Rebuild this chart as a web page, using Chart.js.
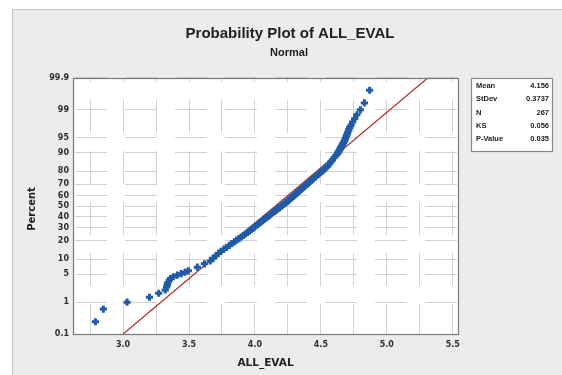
<!DOCTYPE html>
<html>
<head>
<meta charset="utf-8">
<script src="https://cdn.jsdelivr.net/npm/chart.js@4/dist/chart.umd.min.js"></script>
<style>
  html, body { margin: 0; padding: 0; background: #ffffff; }
  canvas { display: block; }
</style>
</head>
<body>
<canvas id="probPlot" width="562" height="375"></canvas>
<script>
// values (ALL_EVAL, normal)
const evalValues = [
  2.79, 2.85, 3.03, 3.20, 3.27, 3.32, 3.33, 3.335, 3.34, 3.35,
  3.36, 3.38, 3.41, 3.44, 3.47, 3.495, 3.563, 3.617, 3.661, 3.683,
  3.704, 3.723, 3.743, 3.765, 3.786, 3.806, 3.825, 3.843, 3.861, 3.879,
  3.896, 3.912, 3.927, 3.943, 3.956, 3.970, 3.983, 3.996, 4.008, 4.021,
  4.033, 4.045, 4.057, 4.069, 4.081, 4.093, 4.105, 4.116, 4.128, 4.140,
  4.151, 4.163, 4.174, 4.186, 4.197, 4.209, 4.220, 4.232, 4.243, 4.253,
  4.263, 4.274, 4.284, 4.294, 4.305, 4.315, 4.326, 4.337, 4.347, 4.358,
  4.369, 4.381, 4.392, 4.404, 4.416, 4.428, 4.440, 4.453, 4.466, 4.480,
  4.494, 4.508, 4.523, 4.538, 4.551, 4.563, 4.575, 4.587, 4.600, 4.614,
  4.624, 4.629, 4.633, 4.637, 4.641, 4.645, 4.649, 4.653, 4.658, 4.663,
  4.667, 4.672, 4.678, 4.683, 4.687, 4.691, 4.696, 4.701, 4.706, 4.712,
  4.719, 4.729, 4.741, 4.756, 4.773, 4.80, 4.83, 4.87
]
const percentValues = [
  0.26, 0.64, 1.01, 1.38, 1.76, 2.13, 2.51, 2.88, 3.25, 3.63,
  4.00, 4.38, 4.75, 5.12, 5.50, 5.87, 6.99, 8.12, 9.24, 10.36,
  11.48, 12.60, 13.73, 14.85, 15.97, 17.09, 18.21, 19.33, 20.46, 21.58,
  22.70, 23.82, 24.94, 26.07, 27.19, 28.31, 29.43, 30.55, 31.68, 32.80,
  33.92, 35.04, 36.16, 37.28, 38.41, 39.53, 40.65, 41.77, 42.90, 44.02,
  45.14, 46.26, 47.38, 48.50, 49.63, 50.75, 51.87, 52.99, 54.11, 55.24,
  56.36, 57.48, 58.60, 59.72, 60.85, 61.97, 63.09, 64.21, 65.33, 66.45,
  67.58, 68.70, 69.82, 70.94, 72.06, 73.19, 74.31, 75.43, 76.55, 77.67,
  78.80, 79.92, 81.04, 82.16, 83.28, 84.41, 85.53, 86.65, 87.77, 88.89,
  89.64, 90.01, 90.39, 90.76, 91.14, 91.51, 91.89, 92.26, 92.63, 93.01,
  93.38, 93.75, 94.13, 94.50, 94.88, 95.25, 95.62, 96.00, 96.37, 96.75,
  97.12, 97.49, 97.87, 98.24, 98.62, 98.99, 99.36, 99.74
]

// fitted normal line (ends at 0.1% and 99.9%)
const fitX = [3.00, 5.31]
const fitPercent = [0.1, 99.9]

// axis ticks
const yTickPercents = [0.1, 1, 5, 10, 20, 30, 40, 50, 60, 70, 80, 90, 95, 99, 99.9]
const yTickLabels = ['0.1', '1', '5', '10', '20', '30', '40', '50', '60', '70', '80', '90', '95', '99', '99.9']
const xGridValues = [2.75, 3.0, 3.25, 3.5, 3.75, 4.0, 4.25, 4.5, 4.75, 5.0, 5.25, 5.5]
const xTickLabels = ['', '3.0', '', '3.5', '', '4.0', '', '4.5', '', '5.0', '', '5.5']

// stats box
const statNames = ['Mean', 'StDev', 'N', 'KS', 'P-Value']
const statValues = ['4.156', '0.3737', '267', '0.056', '0.035']

// inverse normal cdf (Acklam), used for the probability scale
function probit(p) {
  const a = [-3.969683028665376e+01, 2.209460984245205e+02, -2.759285104469687e+02, 1.383577518672690e+02, -3.066479806614716e+01, 2.506628277459239e+00]
  const b = [-5.447609879822406e+01, 1.615858368580409e+02, -1.556989798598866e+02, 6.680131188771972e+01, -1.328068155288572e+01]
  const c = [-7.784894002430293e-03, -3.223964580411365e-01, -2.400758277161838e+00, -2.549732539343734e+00, 4.374664141464968e+00, 2.938163982698783e+00]
  const d = [7.784695709041462e-03, 3.224671290700398e-01, 2.445134137142996e+00, 3.754408661907416e+00]
  const plow = 0.02425
  let q, r
  if (p < plow) {
    q = Math.sqrt(-2 * Math.log(p))
    return (((((c[0]*q+c[1])*q+c[2])*q+c[3])*q+c[4])*q+c[5]) / ((((d[0]*q+d[1])*q+d[2])*q+d[3])*q+1)
  }
  if (p > 1 - plow) {
    q = Math.sqrt(-2 * Math.log(1 - p))
    return -(((((c[0]*q+c[1])*q+c[2])*q+c[3])*q+c[4])*q+c[5]) / ((((d[0]*q+d[1])*q+d[2])*q+d[3])*q+1)
  }
  q = p - 0.5
  r = q * q
  return (((((a[0]*r+a[1])*r+a[2])*r+a[3])*r+a[4])*r+a[5])*q / (((((b[0]*r+b[1])*r+b[2])*r+b[3])*r+b[4])*r+1)
}

const points = evalValues.map((x, i) => ({x: x, y: probit(percentValues[i] / 100)}))
const fitLine = fitX.map((x, i) => ({x: x, y: probit(fitPercent[i] / 100)}))

// background panel, white plot area, frame, titles and the stats box
const minitabLook = {
  id: 'minitabLook',
  beforeDraw(chart) {
    const {ctx, chartArea: area} = chart
    ctx.save()
    ctx.fillStyle = '#ffffff'
    ctx.fillRect(0, 0, chart.width, chart.height)
    ctx.fillStyle = '#ececec'
    ctx.fillRect(12, 9, chart.width - 12, chart.height - 9)
    ctx.strokeStyle = '#c4c4c4'
    ctx.lineWidth = 1
    ctx.beginPath()
    ctx.moveTo(12.5, chart.height)
    ctx.lineTo(12.5, 9.5)
    ctx.lineTo(chart.width, 9.5)
    ctx.stroke()
    ctx.fillStyle = '#ffffff'
    ctx.fillRect(area.left, area.top, area.right - area.left, area.bottom - area.top)
    ctx.restore()
  },
  afterDraw(chart) {
    const {ctx, chartArea: area} = chart
    ctx.save()
    // plot frame
    ctx.strokeStyle = '#7a7a7a'
    ctx.lineWidth = 1.2
    ctx.strokeRect(area.left + 0.5, area.top + 0.5, area.right - area.left, area.bottom - area.top)

    ctx.fillStyle = '#222222'
    ctx.textAlign = 'center'
    ctx.textBaseline = 'middle'
    ctx.font = 'bold 15px "Liberation Sans", Arial, sans-serif'
    ctx.fillText('Probability Plot of ALL_EVAL', 290, 34)
    ctx.font = 'bold 11px "Liberation Sans", Arial, sans-serif'
    ctx.fillText('Normal', 289, 53)

    ctx.font = 'bold 10.5px "DejaVu Sans", sans-serif'
    ctx.fillText('ALL_EVAL', (area.left + area.right) / 2, 363)
    ctx.save()
    ctx.translate(32, (area.top + area.bottom) / 2 + 3)
    ctx.rotate(-Math.PI / 2)
    ctx.font = 'bold 10px "DejaVu Sans", sans-serif'
    ctx.fillText('Percent', 0, 0)
    ctx.restore()

    // stats box
    const bx = 471, by = 78, bw = 81, bh = 73
    ctx.fillStyle = '#ffffff'
    ctx.fillRect(bx, by, bw, bh)
    ctx.strokeStyle = '#8a8a8a'
    ctx.lineWidth = 1.2
    ctx.strokeRect(bx + 0.5, by + 0.5, bw, bh)
    ctx.font = 'bold 7.5px "Liberation Sans", Arial, sans-serif'
    ctx.fillStyle = '#222222'
    statNames.forEach(function(name, i) {
      const y = by + 8 + i * 13.3
      ctx.textAlign = 'left'
      ctx.fillText(name, bx + 5, y)
      ctx.textAlign = 'right'
      ctx.fillText(statValues[i], bx + bw - 3, y)
    })
    ctx.restore()
  }
}

const tickFont = {family: '"DejaVu Sans", sans-serif', size: 8, weight: 'bold'}

new Chart(document.getElementById('probPlot'), {
  type: 'scatter',
  data: {
    datasets: [
      {
        label: 'ALL_EVAL',
        data: points,
        pointStyle: 'cross',
        pointRadius: 3.6,
        borderWidth: 3,
        borderColor: '#1f5ba8',
        backgroundColor: '#1f5ba8',
        order: 1
      },
      {
        label: 'fit',
        data: fitLine,
        showLine: true,
        pointRadius: 0,
        borderColor: '#b83430',
        borderWidth: 1.3,
        order: 2
      }
    ]
  },
  options: {
    responsive: false,
    animation: false,
    events: [],
    layout: {padding: {left: 12, right: 104, top: 78, bottom: 0}},
    plugins: {
      legend: {display: false},
      tooltip: {enabled: false}
    },
    scales: {
      x: {
        type: 'linear',
        min: 2.62,
        max: 5.54,
        afterBuildTicks: function(scale) {
          scale.ticks = xGridValues.map(v => ({value: v}))
        },
        afterFit: function(scale) { scale.height = 41 },
        ticks: {
          callback: function(value, index) { return xTickLabels[index] },
          font: tickFont,
          color: '#2e2e2e',
          padding: 6,
          maxRotation: 0,
          autoSkip: false
        },
        grid: {color: '#d2d2d2', lineWidth: 1, drawTicks: false},
        border: {display: false, dash: [33, 18], dashOffset: 29}
      },
      y: {
        type: 'linear',
        min: probit(0.001),
        max: probit(0.999),
        afterBuildTicks: function(scale) {
          scale.ticks = yTickPercents.map(p => ({value: probit(p / 100)}))
        },
        afterFit: function(scale) { scale.width = 61 },
        ticks: {
          callback: function(value, index) { return yTickLabels[index] },
          font: tickFont,
          color: '#2e2e2e',
          padding: 4,
          autoSkip: false
        },
        grid: {color: '#d2d2d2', lineWidth: 1, drawTicks: false},
        border: {display: false, dash: [32, 18], dashOffset: 48}
      }
    }
  },
  plugins: [minitabLook]
})
</script>
</body>
</html>
